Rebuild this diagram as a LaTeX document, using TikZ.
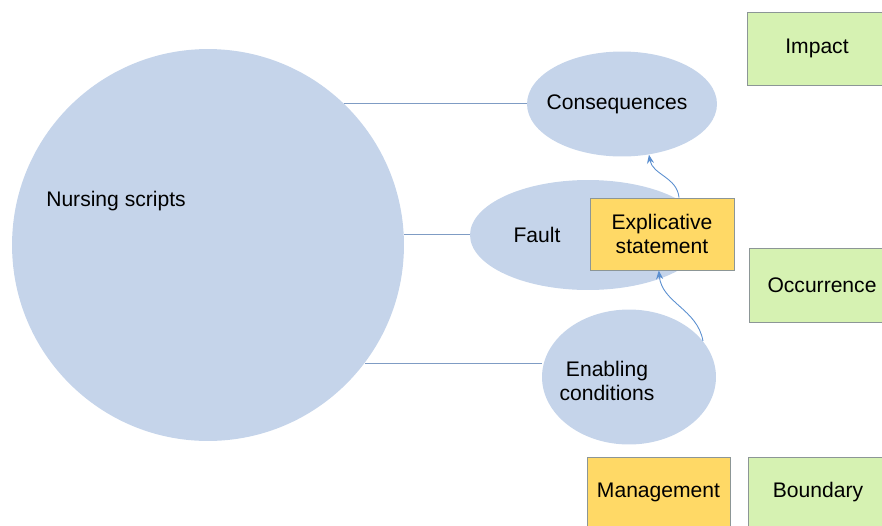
\documentclass[tikz,border=0pt]{standalone}
\usepackage{fontspec}
\setmainfont{Liberation Sans}
\usetikzlibrary{shapes.geometric,arrows.meta}

\definecolor{bubblefill}{HTML}{C5D4EA}
\definecolor{linkblue}{HTML}{7F9CC4}
\definecolor{arrowblue}{HTML}{5B8FD0}
\definecolor{yellowfill}{HTML}{FFD966}
\definecolor{greenfill}{HTML}{D6F2B2}
\definecolor{boxedge}{HTML}{8C9696}

\tikzset{
  txt/.style={font=\fontsize{12}{14}\selectfont, align=center},
  bubble/.style={ellipse, fill=bubblefill, inner sep=0pt},
  ybox/.style={txt, rectangle, fill=yellowfill, draw=boxedge, line width=0.5pt},
  gbox/.style={txt, rectangle, fill=greenfill, draw=boxedge, line width=0.5pt},
  link/.style={draw=linkblue, line width=0.7pt},
  flow/.style={draw=arrowblue, line width=0.5pt, -{Stealth[length=5pt,width=4pt]}},
}

\begin{document}
\begin{tikzpicture}[x=0.02cm,y=-0.02cm]
  \useasboundingbox (0,0) rectangle (882,525);
  \clip (0,0) rectangle (882,525);

  % bubbles
  \node[circle, fill=bubblefill, inner sep=0pt, minimum size=7.84cm] (scripts) at (208,245) {};
  \node[txt] (scriptslabel) at (116,201) {Nursing scripts};
  \node[bubble, minimum width=3.8cm, minimum height=2.1cm] (cons) at (622,104) {};
  \node[txt] (conslabel) at (617,104) {Consequences};
  \node[bubble, minimum width=4.72cm, minimum height=2.2cm] (fault) at (588,235) {};
  \node[txt] (faultlabel) at (537,235) {Fault};
  \node[bubble, minimum width=3.48cm, minimum height=2.7cm] (enab) at (629,377) {};
  \node[txt] (enablabel) at (607,381) {Enabling\\conditions};

  % links to the scripts
  \draw[link] (scripts.46) -- (scripts.46 -| cons.west);
  \draw[link] (scripts.3.5) -- (scripts.3.5 -| fault.west);
  \draw[link] (scripts.-37.4) -- (scripts.-37.4 -| enab.west);

  % boxes
  \node[ybox, minimum width=2.88cm, minimum height=1.44cm] (expl) at (662,234) {Explicative\\statement};
  \node[ybox, minimum width=2.86cm, minimum height=1.4cm] (manage) at (658.5,492) {Management};
  \node[gbox, minimum width=2.8cm, minimum height=1.46cm] (impact) at (817,48.5) {Impact};
  \node[gbox, minimum width=2.92cm, minimum height=1.48cm] (occur) at (822,285) {Occurrence};
  \node[gbox, minimum width=2.8cm, minimum height=1.4cm] (bound) at (818,492) {Boundary};

  % arrows
  \draw[flow] (expl.65) to[out=95,in=-80] (cons.-62);
  \draw[flow] (enab.26) to[out=100,in=-85] (expl.-95);
\end{tikzpicture}
\end{document}
